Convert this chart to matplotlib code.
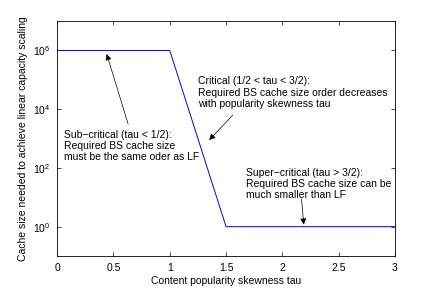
import numpy as np
import matplotlib
matplotlib.use('Agg')
import matplotlib.pyplot as plt

# Données de la courbe (tau, taille du cache)
tau = [0, 1, 1.5, 3]
cache_size = [1e6, 1e6, 1e0, 1e0]

x_ticks = [0, 0.5, 1, 1.5, 2, 2.5, 3]
x_tick_labels = ['0', '0.5', '1', '1.5', '2', '2.5', '3']
y_ticks = [1e0, 1e2, 1e4, 1e6]

plt.rcParams['font.family'] = ['Liberation Sans', 'DejaVu Sans']
plt.rcParams['font.size'] = 7.5
plt.rcParams['mathtext.default'] = 'regular'

fig = plt.figure(figsize=(4.36, 2.89), dpi=100)
ax = fig.add_axes([0.131, 0.114, 0.775, 0.813])

ax.plot(tau, cache_size, color='#0000ff', lw=0.7)
ax.set_yscale('log')
ax.set_xlim(0, 3)
ax.set_ylim(1e-1, 1e7)
ax.set_xticks(x_ticks)
ax.set_xticklabels(x_tick_labels)
ax.set_yticks(y_ticks)
ax.yaxis.set_minor_locator(matplotlib.ticker.NullLocator())
ax.tick_params(direction='in', top=True, right=True, length=3, width=0.5, pad=5)
for s in ax.spines.values():
    s.set_linewidth(0.6)

ax.set_xlabel('Content popularity skewness tau', labelpad=2)
ax.set_ylabel('Cache size needed to achieve linear capacity scaling', labelpad=3)

arrow = dict(arrowstyle='-|>', color='k', lw=0.5, mutation_scale=9, shrinkA=0, shrinkB=0)

# Annotations
ax.annotate('', xy=(0.44, 10**5.88), xytext=(0.63, 10**3.5), arrowprops=arrow)
ax.text(0.062, 10**3.3, 'Sub\u2212critical (tau < 1/2):\nRequired BS cache size\nmust be the same oder as LF',
        va='top', ha='left', linespacing=1.15)

ax.annotate('', xy=(1.35, 10**2.95), xytext=(1.56, 10**3.8), arrowprops=arrow)
ax.text(1.25, 10**5.12, 'Critical (1/2 < tau < 3/2):\nRequired BS cache size order decreases\nwith popularity skewness tau',
        va='top', ha='left', linespacing=1.15)

ax.annotate('', xy=(2.19, 10**0.07), xytext=(2.17, 10**0.95), arrowprops=arrow)
ax.text(1.68, 10**2.0, 'Super\u2212critical (tau > 3/2):\nRequired BS cache size can be\nmuch smaller than LF',
        va='top', ha='left', linespacing=1.15)

fig.savefig('out.png', dpi=100)
